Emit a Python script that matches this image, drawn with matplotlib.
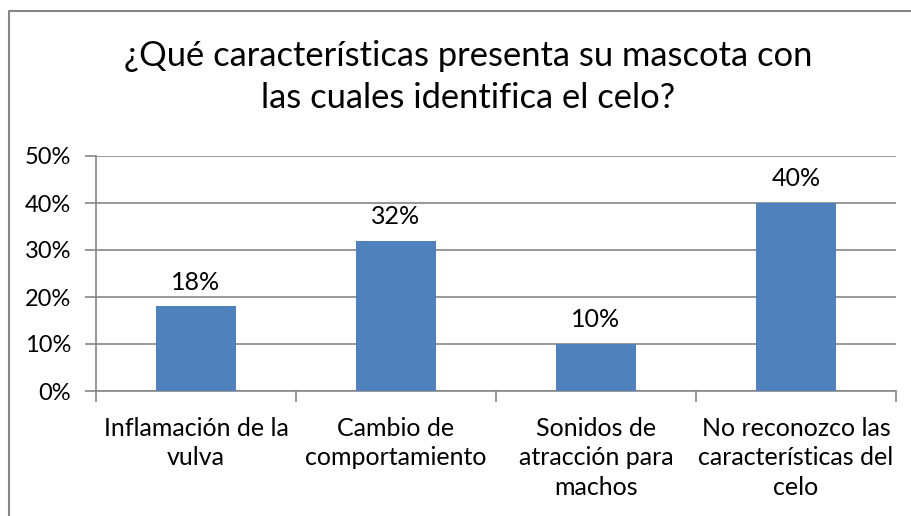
import matplotlib.pyplot as plt
from matplotlib.lines import Line2D
from matplotlib.ticker import FixedLocator

categorias = ["Inflamación de la\nvulva", "Cambio de\ncomportamiento",
              "Sonidos de\natracción para\nmachos",
              "No reconozco las\ncaracterísticas del\ncelo"]
porcentajes = [18, 32, 10, 40]
yticks = [0, 10, 20, 30, 40, 50]
titulo = "¿Qué características presenta su mascota con\nlas cuales identifica el celo?"

plt.rcParams['font.family'] = ['Lato', 'DejaVu Sans']
W, H = 912, 516
fig = plt.figure(figsize=(W / 100, H / 100), dpi=100)
ax = fig.add_axes([96 / W, (H - 391) / H, 800 / W, 235 / H])

gris = '#868686'
x = range(len(categorias))
bars = ax.bar(x, porcentajes, width=0.4, color='#4F81BD', zorder=3)
for b, v in zip(bars, porcentajes):
    ax.text(b.get_x() + b.get_width() / 2, v + 2.7, f"{v}%", ha='center',
            va='bottom', fontsize=18, color='black')

ax.set_xlim(-0.5, 3.5)
ax.set_ylim(0, 50)
ax.set_yticks(yticks)
ax.set_yticklabels([f"{t}%" for t in yticks])
ax.yaxis.grid(True, color=gris, linewidth=1.2, zorder=0)
ax.set_xticks(list(x))
ax.set_xticklabels(categorias, fontsize=18, linespacing=1.32)
for t in ax.get_xticklabels():
    t.set_multialignment('center')
ax.xaxis.set_minor_locator(FixedLocator([-0.5, 0.5, 1.5, 2.5, 3.5]))
ax.tick_params(axis='x', which='major', length=0, pad=19)
ax.tick_params(axis='x', which='minor', length=8, color=gris, width=1.2)
ax.tick_params(axis='y', length=8, color=gris, width=1.2, pad=10,
               labelsize=17)
for s in ['top', 'right']:
    ax.spines[s].set_visible(False)
for s in ['left', 'bottom']:
    ax.spines[s].set_color(gris)
    ax.spines[s].set_linewidth(1.2)

fig.text(468 / W, 1 - 77 / H, titulo, ha='center', va='center',
         fontsize=24.8, linespacing=1.42)

# chart border (partly cropped in the reference)
fig.add_artist(Line2D([9 / W, 9 / W, 1], [0, 1 - 11 / H, 1 - 11 / H],
                      transform=fig.transFigure, color=gris, linewidth=1.5))

fig.savefig('out.png', dpi=100)
